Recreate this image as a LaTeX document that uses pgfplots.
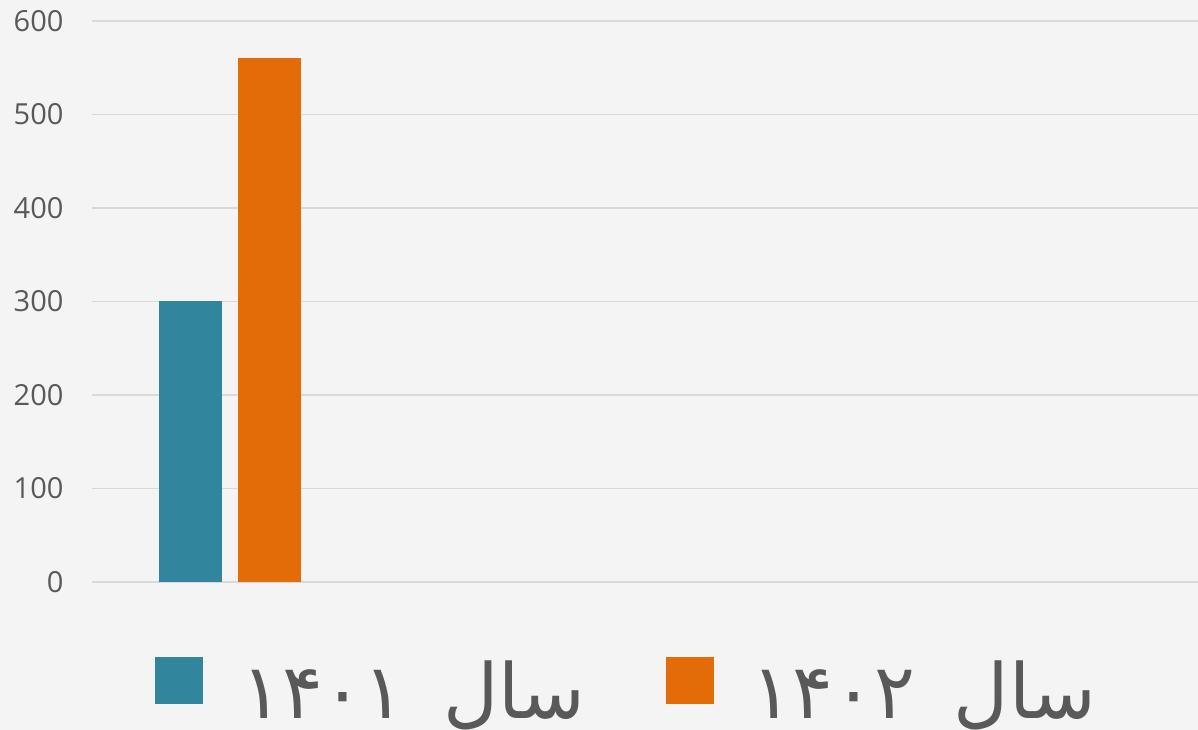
\documentclass[border=0pt]{standalone}
\usepackage{fontspec}
\setmainfont{Open Sans}
\newfontfamily\arabicfont[Script=Arabic]{DejaVu Sans}
\TeXXeTstate=1
\usepackage{pgfplots}
\pgfplotsset{compat=1.18}
\definecolor{bg}{HTML}{F4F4F4}
\definecolor{gridc}{HTML}{D9D9D9}
\definecolor{tickc}{HTML}{595959}
\definecolor{tealc}{HTML}{31859C}
\definecolor{orangec}{HTML}{E36C09}
\begin{document}
\begin{tikzpicture}
\fill[bg] (0,0) rectangle (1198pt,730pt);
\useasboundingbox (0,0) rectangle (1198pt,730pt);
\begin{axis}[
  at={(92pt,148pt)}, anchor=south west,
  scale only axis, width=1106pt, height=561pt,
  xmin=-0.5, xmax=3.5, ymin=0, ymax=600,
  ytick={0,100,...,600}, xtick=\empty,
  axis line style={draw=none},
  ymajorgrids, grid style={gridc, line width=1.6pt},
  major tick length=0pt,
  /pgf/number format/assume math mode=true,
  yticklabel style={font=\fontsize{29}{33}\selectfont, text=tickc, xshift=-25pt},
  ybar=16pt, bar width=63pt,
  legend columns=2,
  legend style={draw=none, fill=none, at={(rel axis cs:0.057,-0.1337)}, anchor=north west,
    inner sep=0pt, font=\arabicfont\fontsize{76}{80}\selectfont, text=tickc,
    nodes={inner sep=0pt, text height=61pt, text depth=0pt},
    /tikz/every even column/.append style={column sep=80pt}},
  legend image code/.code={\fill[#1,draw=none] (0pt,-16.5pt) rectangle (48pt,30.5pt); \path (86pt,-16.5pt);},
]
\addplot[fill=tealc, draw=none] coordinates {(0,300)};
\addlegendentry{\beginR سال\hspace{39pt}\beginL۱۴۰۱\endL\endR}
\addplot[fill=orangec, draw=none] coordinates {(0,560)};
\addlegendentry{\beginR سال\hspace{39pt}\beginL۱۴۰۲\endL\endR}
\end{axis}
\end{tikzpicture}
\end{document}
